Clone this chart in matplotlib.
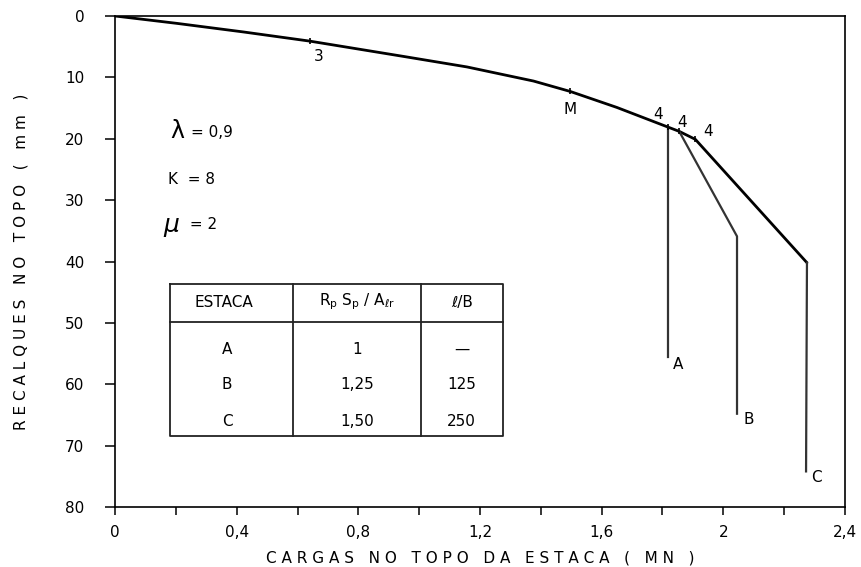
import matplotlib
matplotlib.use("Agg")
import matplotlib.pyplot as plt
from matplotlib.ticker import MultipleLocator, FuncFormatter

plt.rcParams["font.family"] = ["DejaVu Sans"]

# curva carga x recalque (MN, mm)
curve_x = [0, 0.203, 0.422, 0.641, 0.95, 1.157, 1.376, 1.497, 1.65, 1.818, 1.855, 1.908, 2.275]
curve_y = [0, 1.2, 2.6, 4.1, 6.6, 8.3, 10.6, 12.3, 14.9, 18.1, 18.8, 20.1, 40.2]

# ramos das estacas A, B, C
branch_a_x = [1.818, 1.818]
branch_a_y = [18.1, 55.6]
branch_b_x = [1.855, 2.045, 2.045]
branch_b_y = [18.8, 35.9, 64.8]
branch_c_x = [2.275, 2.272]
branch_c_y = [40.2, 74.2]

# pontos marcados na curva
mark_x = [0.641, 1.497, 1.818, 1.855, 1.908]
mark_y = [4.1, 12.3, 18.1, 18.8, 20.1]

# tabela
table_header = ["ESTACA", r"R$_\mathrm{p}$ S$_\mathrm{p}$ / A$_{\ell\mathrm{r}}$", "ℓ/B"]
estacas = ["A", "B", "C"]
rp_sp = ["1", "1,25", "1,50"]
l_b = ["—", "125", "250"]


def spaced(s):
    return " ".join(s)


fig = plt.figure(figsize=(8.61, 5.67), dpi=100)
ax = fig.add_axes([0.1336, 0.1058, 0.8478, 0.866])

ax.plot(curve_x, curve_y, color="black", lw=2.0, solid_capstyle="round",
        solid_joinstyle="round")
ax.plot(branch_a_x, branch_a_y, color="#333333", lw=1.6)
ax.plot(branch_b_x, branch_b_y, color="#333333", lw=1.6)
ax.plot(branch_c_x, branch_c_y, color="#333333", lw=1.6)
ax.plot(mark_x, mark_y, ls="none", marker="|", ms=4, color="black", mew=1.2)

# rotulos na curva
fs = 11
ax.text(0.669, 6.6, "3", ha="center", va="center", fontsize=fs)
ax.text(1.497, 15.3, "M", ha="center", va="center", fontsize=fs)
for lx, ly in [(1.786, 16.1), (1.865, 17.3), (1.95, 18.8)]:
    ax.text(lx, ly, "4", ha="center", va="center", fontsize=fs)
ax.text(1.852, 56.8, "A", ha="center", va="center", fontsize=fs)
ax.text(2.082, 65.8, "B", ha="center", va="center", fontsize=fs)
ax.text(2.306, 75.2, "C", ha="center", va="center", fontsize=fs)

# parametros
ax.text(0.181, 18.8, "λ", ha="left", va="center", fontsize=17)
ax.text(0.25, 19.0, "= 0,9", ha="left", va="center", fontsize=fs)
ax.text(0.174, 26.7, "K  = 8", ha="left", va="center", fontsize=fs)
ax.text(0.158, 34.0, "μ", ha="left", va="center", fontsize=18, style="italic")
ax.text(0.23, 34.0, " = 2", ha="left", va="center", fontsize=fs)

# tabela desenhada
t_left, t_right = 0.181, 1.277
t_cols = [0.586, 1.005]
t_top, t_head, t_bot = 43.6, 49.8, 68.5
tk = dict(color="#222222", lw=1.3)
ax.plot([t_left, t_right, t_right, t_left, t_left], [t_top, t_top, t_bot, t_bot, t_top], **tk)
ax.plot([t_left, t_right], [t_head, t_head], **tk)
for c in t_cols:
    ax.plot([c, c], [t_top, t_bot], **tk)

ax.text(0.357, 46.7, table_header[0], ha="center", va="center", fontsize=fs)
ax.text(0.795, 46.5, table_header[1], ha="center", va="center", fontsize=fs)
ax.text(1.14, 46.7, table_header[2], ha="center", va="center", fontsize=fs)
row_y = [54.3, 60.1, 66.1]
for i in range(3):
    ax.text(0.368, row_y[i], estacas[i], ha="center", va="center", fontsize=fs)
    ax.text(0.795, row_y[i], rp_sp[i], ha="center", va="center", fontsize=fs)
    ax.text(1.14, row_y[i], l_b[i], ha="center", va="center", fontsize=fs)

# eixos
ax.set_xlim(0, 2.4)
ax.set_ylim(80, 0)
ax.xaxis.set_major_locator(MultipleLocator(0.4))
ax.xaxis.set_minor_locator(MultipleLocator(0.2))
ax.yaxis.set_major_locator(MultipleLocator(10))


def fmt_x(v, pos):
    if abs(v - round(v)) < 1e-9:
        return "%d" % round(v)
    return ("%.1f" % v).replace(".", ",")


ax.xaxis.set_major_formatter(FuncFormatter(fmt_x))
ax.tick_params(axis="x", which="both", direction="out", length=6, width=1.1,
               labelsize=fs, pad=7)
ax.tick_params(axis="y", direction="out", length=7, width=1.1, labelsize=fs, pad=15)
for s in ax.spines.values():
    s.set_linewidth(1.2)

ax.set_xlabel(spaced("CARGAS NO TOPO DA ESTACA ( MN )"), fontsize=fs)
ax.set_ylabel(spaced("RECALQUES NO TOPO ( mm )"), fontsize=fs)
ax.xaxis.set_label_coords(0.5, -0.089)
ax.yaxis.set_label_coords(-0.119, 0.5)

fig.savefig("out.png", dpi=100)
